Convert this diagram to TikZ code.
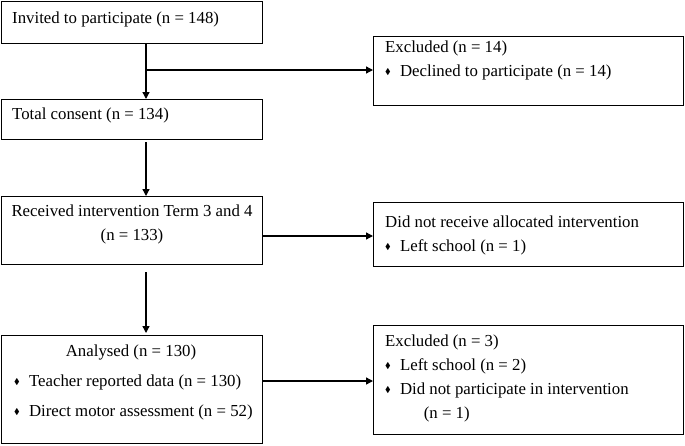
\documentclass[tikz,border=0pt]{standalone}
\usepackage{fontspec}
\setmainfont{Liberation Serif}
\usetikzlibrary{arrows.meta}
\usepackage{amssymb}
\newcommand{\bul}{\raisebox{0.15em}{\scalebox{0.5}{$\blacklozenge$}}\hspace{0.55em}}
\begin{document}
\begin{tikzpicture}[x=1pt,y=-1pt,
  box/.style={draw,line width=1pt},
  txt/.style={anchor=north west,inner sep=0,font=\fontsize{16.8}{24}\selectfont,align=left},
  arr/.style={line width=1.3pt,-{Triangle[length=7pt,width=7pt]}}]
\useasboundingbox (0,0) rectangle (685,445);
\draw[box] (1,1) rectangle (262,43);
\draw[box] (373,36) rectangle (683,105);
\draw[box] (1,99) rectangle (262,139);
\draw[box] (1,196) rectangle (262,264);
\draw[box] (373,202) rectangle (683,266);
\draw[box] (1,335) rectangle (262,443);
\draw[box] (373,325) rectangle (683,434);
\node[txt] (t1) at (12,12) {Invited to participate (n = 148)};
\node[txt] (t2) at (385,41) {Excluded (n = 14)\\\bul Declined to participate (n = 14)};
\node[txt] (t3) at (12,108) {Total consent (n = 134)};
\node[txt,align=center,anchor=north] (t4) at (132,205) {Received intervention Term 3 and 4\\(n = 133)};
\node[txt] (t5) at (385,216) {Did not receive allocated intervention\\\bul Left school (n = 1)};
\node[txt,anchor=north] (t6) at (131,345) {Analysed (n = 130)};
\node[txt] (t6b) at (14,375) {\bul Teacher reported data (n = 130)};
\node[txt] (t6c) at (14,405) {\bul Direct motor assessment (n = 52)};
\node[txt] (t7) at (385,335) {Excluded (n = 3)\\\bul Left school (n = 2)\\\bul Did not participate in intervention\\\hspace{2.3em}(n = 1)};
\coordinate (c1) at (146,43); \coordinate (c2) at (146,99);
\coordinate (c3) at (146,70); \coordinate (bL) at (373,70);
\draw[arr] (c1) -- (c2);
\draw[arr] (c3) -- (bL);
\coordinate (d1) at (146,142); \coordinate (d2) at (146,196);
\draw[arr] (d1) -- (d2);
\coordinate (e1) at (262,236); \coordinate (e2) at (373,236);
\draw[arr] (e1) -- (e2);
\coordinate (f1) at (146,272); \coordinate (f2) at (146,333);
\draw[arr] (f1) -- (f2);
\coordinate (g1) at (262,381); \coordinate (g2) at (373,381);
\draw[arr] (g1) -- (g2);
\end{tikzpicture}
\end{document}
